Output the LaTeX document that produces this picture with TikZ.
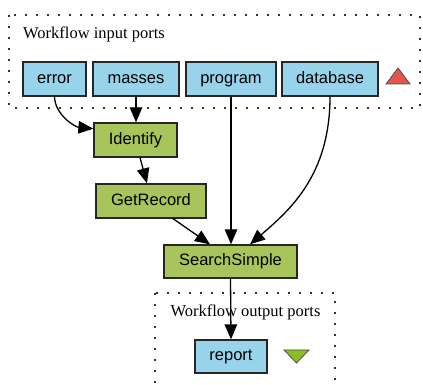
\documentclass[tikz,border=0pt]{standalone}
\usepackage{fontspec}
\setmainfont{Liberation Serif}
\newfontfamily\boxfont{Liberation Sans}
\usetikzlibrary{arrows.meta}
\definecolor{portblue}{HTML}{97D4EB}
\definecolor{procgreen}{HTML}{A7C55B}
\definecolor{trired}{HTML}{E2574B}
\definecolor{trigreen}{HTML}{8CBF1E}
\tikzset{
  x=1pt,y=1pt,
  boxbase/.style={draw=black!85,line width=1.3pt,minimum height=34pt,inner sep=0pt,text height=12pt,text depth=3.5pt,font=\boxfont\fontsize{16.5}{18}\selectfont},
  port/.style={boxbase,fill=portblue},
  proc/.style={boxbase,fill=procgreen},
  edge/.style={line width=1.3pt,-{Triangle[length=15pt,width=12.5pt]}},
  group/.style={line width=1.3pt,dash pattern=on 1.6pt off 9.4pt,black!80},
  lbl/.style={font=\fontsize{16.5}{18}\selectfont,inner sep=0pt}
}
\begin{document}
\begin{tikzpicture}
\useasboundingbox (0,0) rectangle (423,385);
\begin{scope}
\clip (0,0) rectangle (423,385);
\draw[group] (9,370) rectangle (420,277);
\draw[group] (155,92) rectangle (335,-10);
\end{scope}
\node[lbl,anchor=west] (inlabel) at (23,351) {Workflow input ports};
\node[lbl] (outlabel) at (245.5,73) {Workflow output ports};
\node[port,minimum width=63pt] (error) at (54.5,306) {error};
\node[port,minimum width=86pt] (masses) at (136,306) {masses};
\node[port,minimum width=90pt] (program) at (231,306) {program};
\node[port,minimum width=96pt] (database) at (330,306) {database};
\node[proc,minimum width=83pt] (identify) at (135.5,245) {Identify};
\node[proc,minimum width=110pt] (getrecord) at (151,184) {GetRecord};
\node[proc,minimum width=133pt,minimum height=33pt] (search) at (230.5,123.5) {SearchSimple};
\node[port,minimum width=72pt,minimum height=33pt] (report) at (231,28.5) {report};
\draw[fill=trired,draw=black!70,line width=0.8pt] (386,301) -- (410,301) -- (398,317) -- cycle;
\draw[fill=trigreen,draw=black!70,line width=0.8pt] (284,35) -- (309,35) -- (296.5,22) -- cycle;
\draw[edge] (error.south) .. controls (55,270) and (75,258) .. (identify.165);
\draw[edge] (masses.south) -- (masses.south |- identify.north);
\draw[edge] (identify.south) ++(4.5,0) coordinate (idout) (idout) -- (getrecord.north -| 147,0);
\draw[edge] (program.south) -- (program.south |- search.north);
\draw[edge] (database.south) .. controls (330,210) and (290,175) .. (search.north -| 250,0);
\draw[edge] (getrecord.south -| 173,0) coordinate (grout) (grout) -- (search.north -| 210,0);
\draw[edge] (search.south) -- (report.north);
\end{tikzpicture}
\end{document}
